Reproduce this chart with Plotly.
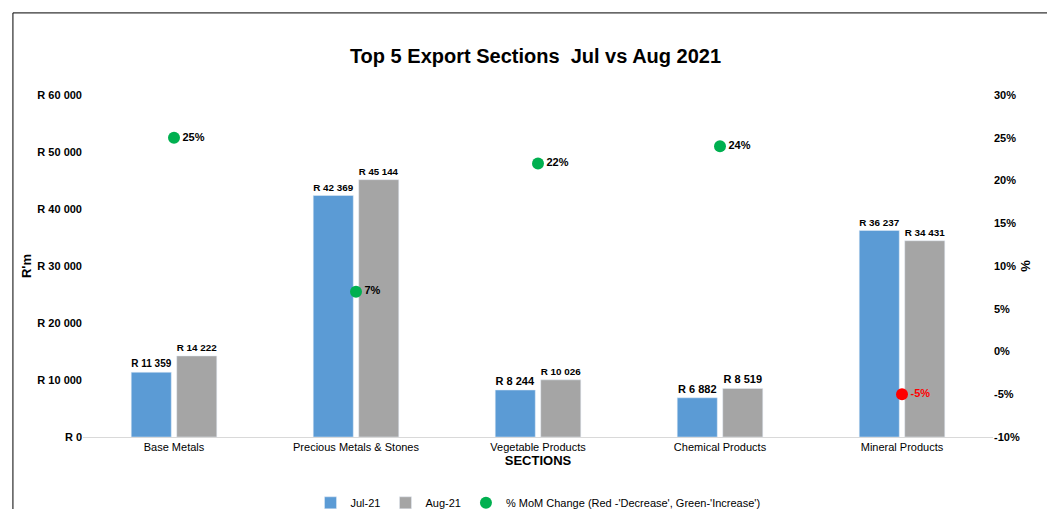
import plotly.graph_objects as go

sections = ["Base Metals", "Precious Metals & Stones", "Vegetable Products", "Chemical Products", "Mineral Products"]
jul = [11359, 42369, 8244, 6882, 36237]
aug = [14222, 45144, 10026, 8519, 34431]
mom = [25, 7, 22, 24, -5]

def rand(v):
    return "R " + f"{v:,}".replace(",", " ")

fig = go.Figure()
fig.add_trace(go.Bar(x=sections, y=jul, name="Jul-21", marker_color="#5b9bd5",
                     text=[f"<b>{rand(v)}</b>" for v in jul], textposition="outside",
                     textfont=dict(size=11, color="black")))
fig.add_trace(go.Bar(x=sections, y=aug, name="Aug-21", marker_color="#a5a5a5",
                     text=[f"<b>{rand(v)}</b>" for v in aug], textposition="outside",
                     textfont=dict(size=11, color="black")))
fig.add_trace(go.Scatter(x=sections, y=mom, yaxis="y2", mode="markers+text",
                         name="% MoM Change (Red -'Decrease', Green-'Increase')",
                         marker=dict(size=12, color=["#00b050" if m >= 0 else "#ff0000" for m in mom]),
                         text=[f"<b>{m}%</b>" for m in mom], textposition="middle right",
                         textfont=dict(size=11, color=["black" if m >= 0 else "#ff0000" for m in mom])))

fig.update_layout(
    width=1055, height=509,
    title=dict(text="<b>Top 5 Export Sections  Jul vs Aug 2021</b>", x=0.5, xanchor="center",
               y=0.905, yanchor="middle", font=dict(size=20, color="black")),
    font=dict(family="Liberation Sans Narrow, Arial", size=11, color="black"),
    paper_bgcolor="white", plot_bgcolor="white",
    margin=dict(l=75, r=70, t=87, b=80, autoexpand=False),
    bargap=0.5, bargroupgap=0.12,
    xaxis=dict(title=dict(text="<b>SECTIONS</b>", standoff=0), showline=True, linecolor="#d9d9d9"),
    yaxis=dict(title=dict(text="<b>R'm</b>", standoff=2), range=[0, 60000],
               tickvals=list(range(0, 60001, 10000)),
               ticktext=[f"<b>{rand(v)}</b>" for v in range(0, 60001, 10000)],
               showgrid=False, zeroline=False),
    yaxis2=dict(title=dict(text="<b>%</b>", standoff=2), overlaying="y", side="right",
                range=[-10, 30], tickvals=list(range(-10, 31, 5)),
                ticktext=[f"<b>{v}%</b>" for v in range(-10, 31, 5)],
                showgrid=False, zeroline=False),
    legend=dict(orientation="h", x=0.5, xanchor="center", y=-0.15, yanchor="top",
                font=dict(size=11), bgcolor="rgba(0,0,0,0)"),
    shapes=[dict(type="rect", xref="paper", yref="paper", x0=-0.077, x1=1.071, y0=-0.216, y1=1.24,
                 line=dict(color="black", width=1))],
)
fig.update_xaxes(tickfont=dict(size=11))
fig.write_html("out.html")
